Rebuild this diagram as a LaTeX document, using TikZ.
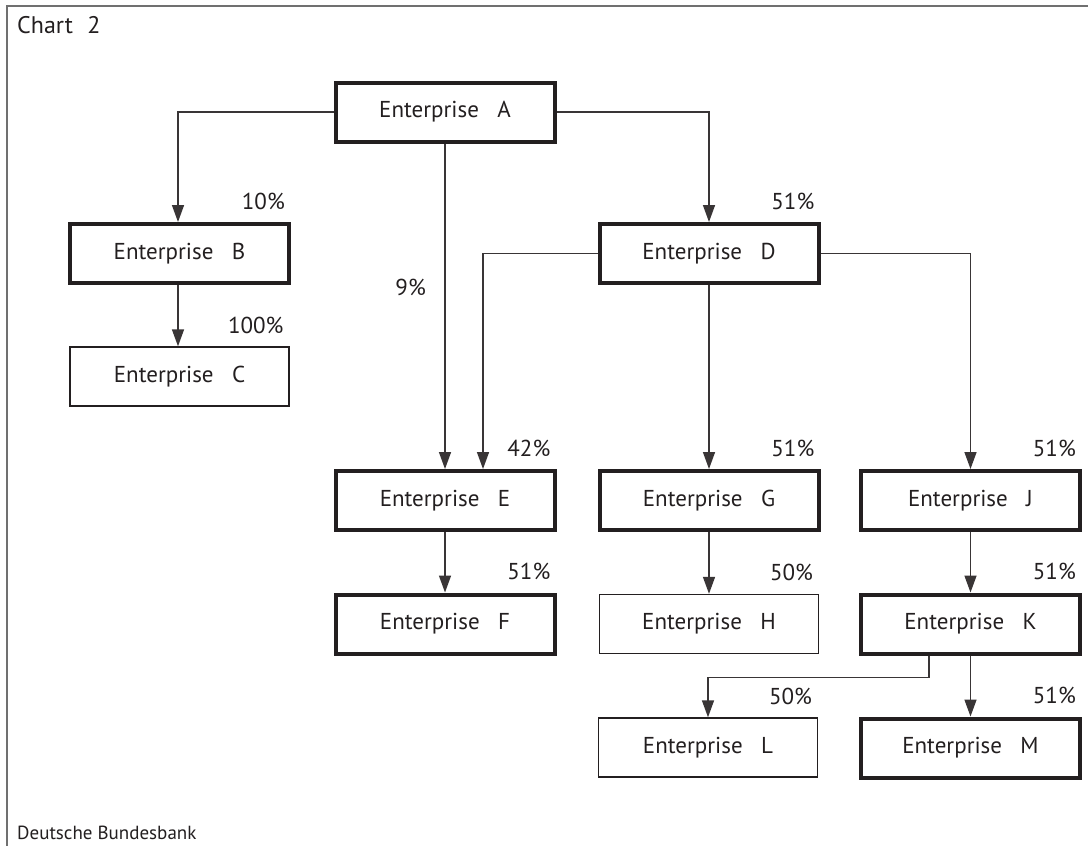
\documentclass[tikz,border=0pt]{standalone}
\usepackage{fontspec}
\setmainfont{PT Sans}
\usetikzlibrary{arrows.meta}
\definecolor{ink}{HTML}{231F20}
\definecolor{framegray}{HTML}{707070}
\tikzset{
  ebox/.style={rectangle, draw=ink, text=ink, minimum width=219pt, minimum height=59pt,
    inner sep=0pt, font=\fontsize{23}{27}\selectfont},
  heavy/.style={ebox, line width=4pt},
  light/.style={ebox, line width=1.4pt},
  conn/.style={draw=ink!90, line width=1.5pt},
  arr/.style={conn, -{Triangle[length=17pt,width=12pt]}},
  lbl/.style={anchor=east, inner sep=0pt, text=ink, font=\fontsize{23}{27}\selectfont},
}
\newcommand{\ent}[1]{Enterprise\hspace{0.8em}#1}
\begin{document}
\begin{tikzpicture}[x=1pt,y=-1pt]
\useasboundingbox (0,0) rectangle (1088,846);
\fill[white] (0,0) rectangle (1088,846);
\draw[framegray, line width=2pt] (7,846) -- (7,6) -- (1088,6);
\node[anchor=west, inner sep=0pt, text=ink, font=\fontsize{24}{28}\selectfont] (title) at (17,25) {Chart\hspace{0.6em}2};
\node[anchor=west, inner sep=0pt, text=ink, font=\fontsize{19}{22}\selectfont] (src) at (17,833) {Deutsche Bundesbank};

\node[heavy] (A) at (445,112) {\ent{A}};
\node[heavy] (B) at (179.5,253.5) {\ent{B}};
\node[light] (C) at (179.5,376.5) {\ent{C}};
\node[heavy] (D) at (709,253.5) {\ent{D}};
\node[heavy] (E) at (445,500.5) {\ent{E}};
\node[heavy] (G) at (709,500.5) {\ent{G}};
\node[heavy] (J) at (970.5,500.5) {\ent{J}};
\node[heavy] (F) at (445,624) {\ent{F}};
\node[light] (H) at (709,624) {\ent{H}};
\node[heavy] (K) at (970.5,624) {\ent{K}};
\node[light] (L) at (708,747.5) {\ent{L}};
\node[heavy] (M) at (970.5,748) {\ent{M}};

\draw[arr] (A.west) -| ([xshift=-1.5pt]B.north);
\draw[arr] (A.south) -- (E.north);
\draw[arr] (A.east) -| (D.north);
\draw[arr] (D.west) -| ([xshift=38pt]E.north);
\draw[arr] (D.south) -- (G.north);
\draw[arr] (D.east) -| (J.north);
\draw[arr] ([xshift=-1.5pt]B.south) -- ([xshift=-1.5pt]C.north);
\draw[arr] (E.south) -- (F.north);
\draw[arr] (G.south) -- (H.north);
\draw[arr] (J.south) -- (K.north);
\draw[arr] (K.south) -- (M.north);
\draw[arr] ([xshift=-41.5pt]K.south) -- ++(0,22) -| (L.north);

\node[lbl] (pB) at ([shift={(-6,-21)}]B.north east) {10\%};
\node[lbl] (pC) at ([shift={(-6,-21)}]C.north east) {100\%};
\node[lbl] (p9) at (426,287) {9\%};
\node[lbl] (pD) at ([shift={(-6,-21)}]D.north east) {51\%};
\node[lbl] (pE) at ([shift={(-6,-21)}]E.north east) {42\%};
\node[lbl] (pG) at ([shift={(-6,-21)}]G.north east) {51\%};
\node[lbl] (pJ) at ([shift={(-6,-21)}]J.north east) {51\%};
\node[lbl] (pF) at ([shift={(-6,-21)}]F.north east) {51\%};
\node[lbl] (pH) at ([shift={(-6,-21)}]H.north east) {50\%};
\node[lbl] (pK) at ([shift={(-6,-21)}]K.north east) {51\%};
\node[lbl] (pL) at ([shift={(-6,-21)}]L.north east) {50\%};
\node[lbl] (pM) at ([shift={(-6,-21)}]M.north east) {51\%};
\end{tikzpicture}
\end{document}
